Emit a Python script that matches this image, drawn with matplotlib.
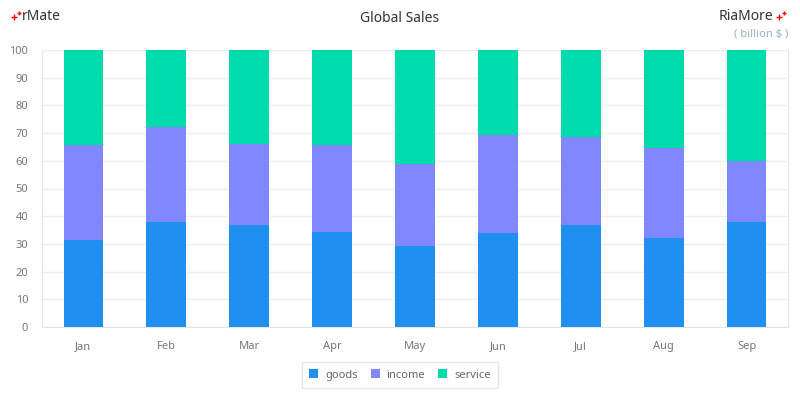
import matplotlib
matplotlib.use("Agg")
import matplotlib.pyplot as plt
from matplotlib.lines import Line2D
import numpy as np

months = ["Jan", "Feb", "Mar", "Apr", "May", "Jun", "Jul", "Aug", "Sep"]
goods = [31.5, 38.0, 36.9, 34.4, 29.3, 34.0, 36.9, 32.2, 38.0]
income = [34.1, 34.1, 29.2, 31.2, 29.6, 35.3, 31.7, 32.6, 21.9]
service = [100 - g - i for g, i in zip(goods, income)]
series = {"goods": goods, "income": income, "service": service}
colors = {"goods": "#1f8ff0", "income": "#7f88ff", "service": "#00dbae"}
yticks = list(range(0, 101, 10))

plt.rcParams['font.family'] = ['Noto Sans', 'DejaVu Sans']

fig = plt.figure(figsize=(8, 4), dpi=100)
ax = fig.add_axes([0.0525, 0.1825, 0.9325, 0.6925])

x = np.arange(len(months))
bottom = np.zeros(len(months))
handles = []
for name, vals in series.items():
    h = ax.bar(x, vals, width=0.48, bottom=bottom, color=colors[name], label=name, zorder=3)
    handles.append(h)
    bottom += np.array(vals)

ax.set_xlim(-0.5, len(months) - 0.5)
ax.set_ylim(0, 100)
ax.set_yticks(yticks)
ax.set_xticks(x)
ax.set_xticklabels(months)
ax.tick_params(axis='both', length=0, labelsize=8, colors='#777777')
ax.tick_params(axis='x', pad=10)
ax.tick_params(axis='y', pad=10)
ax.grid(axis='y', color='#eeeeee', linewidth=1, zorder=0)
for side in ['left', 'bottom', 'right']:
    ax.spines[side].set_color('#e6e6e6')
ax.spines['top'].set_visible(False)


def px(xp, yp):
    return xp / 800.0, 1 - yp / 400.0


def plus(xp, yp, size):
    fx, fy = px(xp, yp)
    fig.add_artist(Line2D([fx], [fy], marker='+', markersize=size, markeredgewidth=1.0,
                          color='red', transform=fig.transFigure, linestyle='none'))


fig.text(0.5, 0.955, "Global Sales", ha='center', va='center', fontsize=10, color='#333333')
fig.text(*px(21.5, 16), "rMate", ha='left', va='center', fontsize=10, color='#333333')
plus(13.5, 16.5, 4.2)
plus(18.5, 13, 3.2)
fig.text(*px(773, 16), "RiaMore", ha='right', va='center', fontsize=10, color='#333333')
plus(778.5, 16.5, 4.2)
plus(783.5, 13, 3.2)
fig.text(0.985, 0.915, "( billion $ )", ha='right', va='center', fontsize=8, color='#9aaec4')

leg = fig.legend(handles=handles, labels=list(series.keys()), loc='center', bbox_to_anchor=(0.5, 0.0625),
                 ncol=3, frameon=True, fontsize=8, handlelength=0.8, handleheight=0.8,
                 handletextpad=0.6, columnspacing=1.2, borderpad=0.65, fancybox=False)
leg.get_frame().set_edgecolor('#e0e0e0')
leg.get_frame().set_linewidth(1)
for t in leg.get_texts():
    t.set_color('#666666')

fig.savefig("out.png", dpi=100, facecolor='white')
